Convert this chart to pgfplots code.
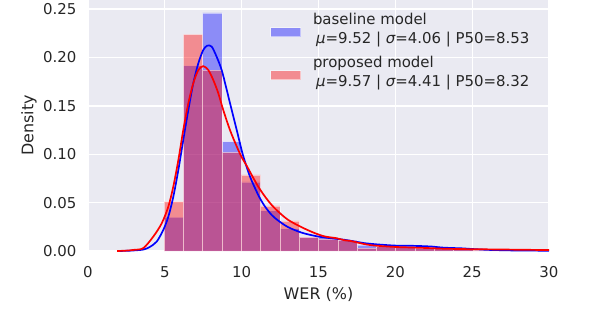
\documentclass[border=0pt]{standalone}
\usepackage{fontspec}
\setmainfont{DejaVu Sans}
\usepackage{pgfplots}
\pgfplotsset{compat=1.18}
\definecolor{bgcol}{HTML}{EAEAF2}
\definecolor{txtcol}{HTML}{262626}

\begin{document}
\begin{tikzpicture}
\begin{axis}[
    scale only axis, width=461bp, height=251bp,
    xmin=0, xmax=30, ymin=0, ymax=0.2594,
    axis background/.style={fill=bgcol},
    axis line style={draw=none},
    major tick length=0pt,
    xtick={0,5,10,15,20,25,30},
    ytick={0,0.05,0.10,0.15,0.20,0.25},
    grid=major, grid style={white, line width=1.3bp},
    /pgf/number format/assume math mode=true,
    yticklabel style={/pgf/number format/fixed, /pgf/number format/fixed zerofill,
                      /pgf/number format/precision=2, xshift=-8bp},
    tick label style={font=\fontsize{15}{18}\selectfont, text=txtcol},
    xticklabel style={yshift=-12bp},
    xlabel={WER (\%)}, ylabel={Density},
    every axis x label/.style={at={(rel axis cs:0.5,0)}, anchor=base, yshift=-48bp,
                               font=\fontsize{16}{19}\selectfont, text=txtcol},
    every axis y label/.style={at={(rel axis cs:0,0.5)}, rotate=90, anchor=center, yshift=59bp,
                               font=\fontsize{16}{19}\selectfont, text=txtcol},
    legend style={at={(0.3948,0.964)}, anchor=north west, draw=none, fill=none,
                  inner sep=0pt, row sep=15bp, nodes={inner sep=2bp},
                  font=\fontsize{15}{19}\selectfont, text=txtcol,
                  /tikz/every odd column/.append style={column sep=10bp}},
    legend cell align=left,
    legend image code/.code={\fill[#1] (0bp,-13.5bp) rectangle (30bp,-4.5bp);},
  ]
% histograms (bin edges, density)
\addplot[ybar interval, fill=blue, fill opacity=0.4, draw=white, draw opacity=0.5, line width=0.8bp] coordinates {
  (4.950,0.0350) (6.207,0.1915) (7.464,0.2460) (8.721,0.1130) (9.978,0.0714)
  (11.235,0.0417) (12.492,0.0231) (13.749,0.0143) (15.006,0.0143) (16.263,0.0110)
  (17.520,0.0060) (18.777,0.0045) (20.034,0.0040) (21.291,0.0030) (22.548,0.0025)
  (23.805,0.0020) (25.062,0.0005) (26.319,0.0005) (27.576,0.0003) (28.833,0.0003)
  (30.090,0)};
\addlegendentry{\begin{tabular}{@{}l@{}}baseline model\\\hspace{3bp}{\itshape μ}=9.52 | {\itshape σ}=4.06 | P50=8.53\end{tabular}}
\addplot[ybar interval, fill=red, fill opacity=0.4, draw=white, draw opacity=0.5, line width=0.8bp] coordinates {
  (4.950,0.0510) (6.207,0.2240) (7.464,0.1870) (8.721,0.1020) (9.978,0.0786)
  (11.235,0.0466) (12.492,0.0311) (13.749,0.0143) (15.006,0.0125) (16.263,0.0110)
  (17.520,0.0030) (18.777,0.0045) (20.034,0.0040) (21.291,0.0030) (22.548,0.0030)
  (23.805,0.0015) (25.062,0.0008) (26.319,0.0010) (27.576,0.0020) (28.833,0.0005)
  (30.090,0)};
\addlegendentry{\begin{tabular}{@{}l@{}}proposed model\\\hspace{3bp}{\itshape μ}=9.57 | {\itshape σ}=4.41 | P50=8.32\end{tabular}}
% kernel density estimates
\addplot[blue, line width=1.7bp, smooth, forget plot] coordinates {
  (1.9,0) (2.5,0.0002) (3.0,0.0006) (3.6,0.0015) (4.0,0.0040) (4.47,0.0097)
  (4.9,0.0218) (5.23,0.0356) (5.55,0.0560) (5.88,0.0838) (6.2,0.1148)
  (6.53,0.1458) (6.85,0.1733) (7.18,0.1940) (7.5,0.2077) (7.76,0.2122)
  (8.05,0.2112) (8.37,0.2008) (8.7,0.1870) (9.03,0.1664) (9.35,0.1458)
  (9.68,0.1250) (10.0,0.1040) (10.22,0.0920) (10.54,0.0770) (10.87,0.0649)
  (11.19,0.0545) (11.52,0.0459) (11.95,0.0373) (12.38,0.0314) (13.03,0.0246)
  (13.9,0.0190) (14.77,0.0156) (15.42,0.0139) (16.72,0.0115) (18.03,0.0080)
  (18.68,0.0070) (19.98,0.0056) (21.28,0.0053) (22.37,0.0046) (23.1,0.0035)
  (24.4,0.0027) (24.86,0.0022) (26.0,0.0012) (27.0,0.0008) (28.0,0.0005) (30.0,0.0003)};
\addplot[red, line width=1.7bp, smooth, forget plot] coordinates {
  (1.9,0) (2.5,0.0004) (3.0,0.0012) (3.6,0.0030) (4.25,0.0149) (4.8,0.0287)
  (5.23,0.0459) (5.55,0.0665) (5.88,0.0940) (6.2,0.1250) (6.53,0.1527)
  (6.85,0.1733) (7.18,0.1870) (7.5,0.1910) (7.83,0.1870) (8.15,0.1768)
  (8.48,0.1630) (8.8,0.1458) (9.24,0.1250) (9.68,0.1080) (10.0,0.0970)
  (10.33,0.0880) (10.65,0.0786) (11.08,0.0665) (11.52,0.0562) (11.95,0.0476)
  (12.38,0.0407) (13.03,0.0321) (13.9,0.0246) (14.77,0.0184) (15.42,0.0150)
  (16.18,0.0132) (16.72,0.0110) (17.05,0.0105) (18.03,0.0070) (18.68,0.0056)
  (19.98,0.0042) (21.28,0.0035) (22.37,0.0029) (23.1,0.0024) (24.4,0.0020)
  (26.6,0.0016) (28.76,0.0012) (30.0,0.0010)};
\end{axis}
\pgfresetboundingbox
\path (-88bp,-75bp) rectangle (504bp,251bp);
\end{tikzpicture}
\end{document}
